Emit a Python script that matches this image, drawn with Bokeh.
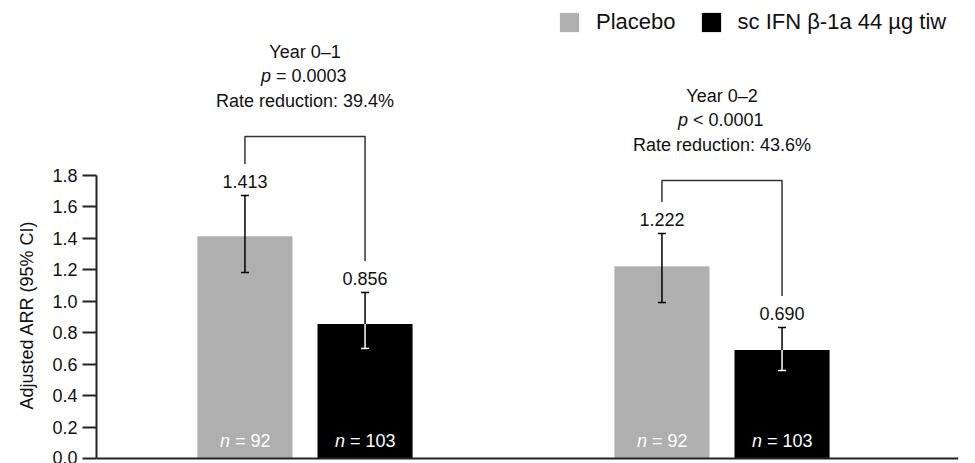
import math
from bokeh.plotting import figure
from bokeh.models import (Range1d, FixedTicker, Span, Title, Legend, LegendItem,
                          PrintfTickFormatter)
from bokeh.core.properties import value
from bokeh.embed import file_html
from bokeh.resources import INLINE

# ---------------- data ----------------
periods = ["Year 0–1", "Year 0–2"]
arm_names = ["Placebo", "sc IFN β-1a 44 µg tiw"]
placebo_arr = [1.413, 1.222]
ifn_arr = [0.856, 0.690]
placebo_lower = [1.183, 0.992]
placebo_upper = [1.673, 1.431]
ifn_lower = [0.700, 0.560]
ifn_upper = [1.056, 0.833]
placebo_n = [92, 92]
ifn_n = [103, 103]
p_relation = ["=", "<"]
p_values = ["0.0003", "0.0001"]
rate_reduction = [39.4, 43.6]
bracket_level = [2.048, 1.768]
y_ticks = [0.0, 0.2, 0.4, 0.6, 0.8, 1.0, 1.2, 1.4, 1.6, 1.8]

# ---------------- styling ----------------
FONT = "Liberation Sans"
GREY = "#afafaf"
BLACK = "#000000"
AXIS = "#222222"
TXT = "#111111"
group_x = [1, 2]
dodge = 0.144
bar_w = 0.228
leg_gap = 0.2

px = [g - dodge for g in group_x]
ix = [g + dodge for g in group_x]

p = figure(width=975, height=463,
           x_range=Range1d(0.5, 0.5 + 862 / 417),
           y_range=Range1d(-0.0318, 2.913),
           output_backend="svg", toolbar_location=None, x_axis_location=None,
           min_border_left=96, min_border_right=17, min_border_top=0, min_border_bottom=0)
p.outline_line_color = None
p.grid.grid_line_color = None
p.background_fill_color = "white"

ax = p.yaxis[0]
ax.ticker = FixedTicker(ticks=y_ticks)
ax.bounds = (0, 1.8)
ax.formatter = PrintfTickFormatter(format="%.1f")
ax.major_tick_out = 14
ax.major_tick_in = 0
ax.minor_tick_out = 0
ax.minor_tick_in = 0
ax.axis_line_width = 2
ax.axis_line_color = AXIS
ax.major_tick_line_width = 2
ax.major_tick_line_color = AXIS
ax.major_label_text_font = FONT
ax.major_label_text_font_size = "18px"
ax.major_label_text_color = TXT
ax.major_label_standoff = 5

p.add_layout(Span(location=0, dimension="width", line_color=AXIS, line_width=2))

# bars
r_pl = p.vbar(x=px, top=placebo_arr, width=bar_w, fill_color=GREY, line_color=None)
r_if = p.vbar(x=ix, top=ifn_arr, width=bar_w, fill_color=BLACK, line_color=None)

# error bars
p.segment(x0=px, y0=placebo_lower, x1=px, y1=placebo_upper, line_color=BLACK, line_width=1.5)
p.segment(x0=ix, y0=ifn_arr, x1=ix, y1=ifn_upper, line_color=BLACK, line_width=1.5)
p.segment(x0=ix, y0=ifn_lower, x1=ix, y1=ifn_arr, line_color="white", line_width=1.5)
p.dash(x=px, y=placebo_upper, size=8, line_color=BLACK, line_width=1.5)
p.dash(x=px, y=placebo_lower, size=8, line_color=BLACK, line_width=1.5)
p.dash(x=ix, y=ifn_upper, size=8, line_color=BLACK, line_width=1.5)
p.dash(x=ix, y=ifn_lower, size=8, line_color="white", line_width=1.5)

# value labels
common = dict(text_font=value(FONT), text_font_size="18px", text_baseline="middle")
p.text(x=px, y=placebo_upper, text=[f"{v:.3f}" for v in placebo_arr], y_offset=-14,
       text_align="center", text_color=TXT, **common)
p.text(x=ix, y=ifn_upper, text=[f"{v:.3f}" for v in ifn_arr], y_offset=-14,
       text_align="center", text_color=TXT, **common)

# n labels (white, inside bars)
p.text(x=px, y=[0, 0], text=["n", "n"], x_offset=-25, y_offset=-18, text_align="left",
       text_color="white", text_font_style="italic", **common)
p.text(x=px, y=[0, 0], text=[f"= {n}" for n in placebo_n], x_offset=-10, y_offset=-18,
       text_align="left", text_color="white", **common)
p.text(x=ix, y=[0, 0], text=["n", "n"], x_offset=-30, y_offset=-18, text_align="left",
       text_color="white", text_font_style="italic", **common)
p.text(x=ix, y=[0, 0], text=[f"= {n}" for n in ifn_n], x_offset=-15, y_offset=-18,
       text_align="left", text_color="white", **common)

# brackets
xs = [[a, a, b, b] for a, b in zip(px, ix)]
ys = [[pu + leg_gap, lvl, lvl, iu + leg_gap]
      for pu, iu, lvl in zip(placebo_upper, ifn_upper, bracket_level)]
p.multi_line(xs=xs, ys=ys, line_color="#333333", line_width=1.5)

# bracket annotations
p.text(x=group_x, y=bracket_level, text=periods, y_offset=-85, text_align="center",
       text_color=TXT, **common)
p.text(x=group_x, y=bracket_level, text=["p", "p"], x_offset=-44, y_offset=-61,
       text_align="left", text_color=TXT, text_font_style="italic", **common)
p.text(x=group_x, y=bracket_level, text=[f"{r} {v}" for r, v in zip(p_relation, p_values)],
       x_offset=-29, y_offset=-61, text_align="left", text_color=TXT, **common)
p.text(x=group_x, y=bracket_level, text=[f"Rate reduction: {r}%" for r in rate_reduction],
       y_offset=-36, text_align="center", text_color=TXT, **common)

# y axis title
p.add_layout(Title(text="Adjusted ARR (95% CI)", align="left", offset=54, standoff=26,
                   text_font=FONT, text_font_size="18px", text_font_style="normal",
                   text_color=TXT), "left")

legend = Legend(items=[LegendItem(label=arm_names[0], renderers=[r_pl]),
                       LegendItem(label=arm_names[1], renderers=[r_if])],
                location=(461, 428), orientation="horizontal",
                glyph_width=24, glyph_height=24, label_standoff=15, spacing=23,
                padding=0, margin=0, border_line_color=None, background_fill_alpha=0,
                label_text_font=FONT, label_text_font_size="22px", label_text_color=TXT)
p.add_layout(legend)

open("out.html", "w").write(file_html(p, INLINE))
